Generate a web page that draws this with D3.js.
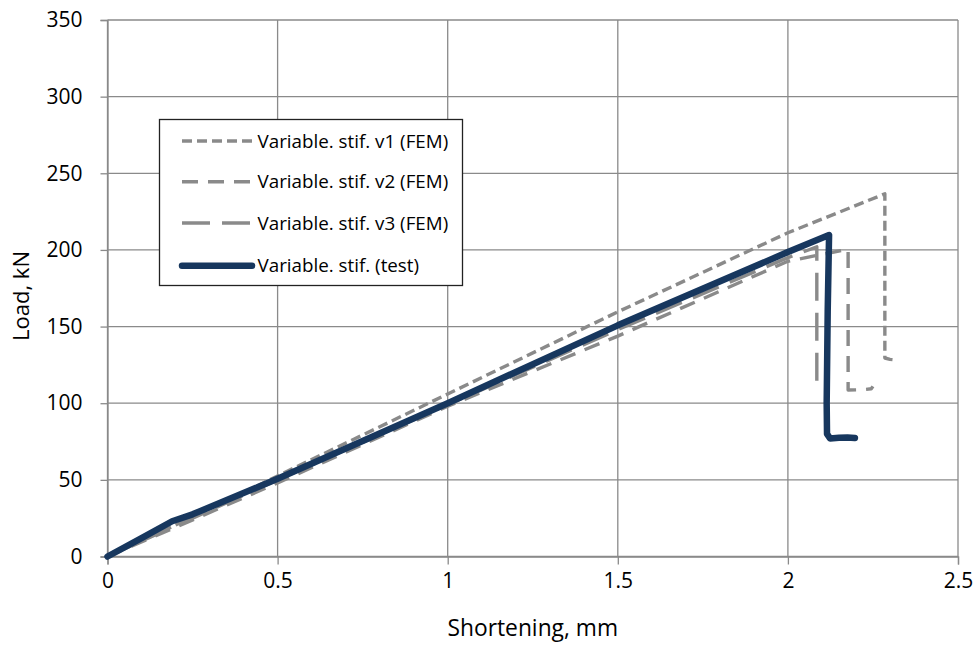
<!DOCTYPE html>
<html>
<head>
<meta charset="utf-8">
<script src="https://cdnjs.cloudflare.com/ajax/libs/d3/7.8.5/d3.min.js"></script>
<style>
    body { margin: 0; background: #fff; }
    text { font-family: "Open Sans", sans-serif; fill: #000; }
</style>
</head>
<body>
<div id="chart"></div>
<script>

/**
 * Load vs shortening - variable stiffness
 */

var xTicks = [0, 0.5, 1, 1.5, 2, 2.5];
var yTicks = [0, 50, 100, 150, 200, 250, 300, 350];

// FEM v1
var v1X = [0, 0.2, 1, 1.5, 2, 2.285, 2.285, 2.3, 2.32];
var v1Y = [0, 20.5, 106, 159.6, 211.2, 236.6, 129.5, 128.6, 128.2];

// FEM v2
var v2X = [0, 0.2, 0.5, 1, 1.5, 2, 2.177, 2.177, 2.22, 2.245, 2.25];
var v2Y = [0, 19, 48, 98, 143.8, 192.6, 200.5, 108.6, 108.8, 109.4, 111];

// FEM v3
var v3X = [0, 0.2, 0.5, 1, 1.5, 2, 2.085, 2.085];
var v3Y = [0, 20, 50, 99, 148, 195, 202, 109.7];

// test
var testX = [0, 0.1, 0.19, 0.25, 0.5, 1, 1.5, 2, 2.121, 2.117, 2.114, 2.115, 2.124, 2.15, 2.175, 2.197];
var testY = [0, 12, 23, 27.5, 50.7, 100, 150.8, 198.6, 209.7, 160, 100, 80, 77.0, 77.4, 77.7, 77.3];

var seriesNames = ['Variable. stif. v1 (FEM)', 'Variable. stif. v2 (FEM)', 'Variable. stif. v3 (FEM)', 'Variable. stif. (test)'];

var svgWidth = 980;
var svgHeight = 648;
var plotLeft = 107.5, plotRight = 958, plotTop = 20, plotBottom = 556.5;

var svg = d3.select('#chart')
    .append('svg')
    .attr('width', svgWidth)
    .attr('height', svgHeight);

var x = d3.scaleLinear().domain([0, 2.5]).range([plotLeft, plotRight]);
var y = d3.scaleLinear().domain([0, 350]).range([plotBottom, plotTop]);

var gridColor = '#8a8a8a';

// gridlines
svg.append('g')
    .selectAll('line')
    .data(yTicks)
    .enter()
    .append('line')
    .attr('x1', plotLeft)
    .attr('x2', plotRight)
    .attr('y1', function(d) { return y(d); })
    .attr('y2', function(d) { return y(d); })
    .style('stroke', gridColor)
    .style('stroke-width', 1.3);

svg.append('g')
    .selectAll('line')
    .data(xTicks)
    .enter()
    .append('line')
    .attr('x1', function(d) { return x(d); })
    .attr('x2', function(d) { return x(d); })
    .attr('y1', plotTop)
    .attr('y2', plotBottom)
    .style('stroke', gridColor)
    .style('stroke-width', 1.3);

// axes
var xAxis = svg.append('g')
    .attr('transform', 'translate(0,' + plotBottom + ')')
    .call(d3.axisBottom(x).tickValues(xTicks).tickSize(8).tickPadding(9).tickFormat(d3.format('')));

var yAxis = svg.append('g')
    .attr('transform', 'translate(' + plotLeft + ',0)')
    .call(d3.axisLeft(y).tickValues(yTicks).tickSize(7).tickPadding(18));

[xAxis, yAxis].forEach(function(a) {
    a.select('.domain').style('stroke', gridColor).style('stroke-width', 1.3);
    a.selectAll('.tick line').style('stroke', gridColor).style('stroke-width', 1.3);
    a.selectAll('.tick text')
        .style('font-family', '"Open Sans", sans-serif')
        .style('font-size', '21px')
        .style('fill', '#000');
});

// axis titles
svg.append('text')
    .attr('x', (plotLeft + plotRight) / 2)
    .attr('y', 636)
    .attr('text-anchor', 'middle')
    .style('font-size', '22.8px')
    .text('Shortening, mm');

svg.append('text')
    .attr('transform', 'translate(29,' + 296 + ') rotate(-90)')
    .attr('text-anchor', 'middle')
    .style('font-size', '22px')
    .text('Load, kN');

// series
var styles = [
    { color: '#8a8a8a', width: 3.4, dash: '10,5' },
    { color: '#8a8a8a', width: 3.4, dash: '16,10' },
    { color: '#8a8a8a', width: 3.4, dash: '28,12' },
    { color: '#17375e', width: 6.5, dash: null }
];

function zipPts(xs, ys) {
    return xs.map(function(d, i) { return [d, ys[i]]; });
}

var series = [zipPts(v1X, v1Y), zipPts(v2X, v2Y), zipPts(v3X, v3Y), zipPts(testX, testY)];

var line = d3.line()
    .x(function(d) { return x(d[0]); })
    .y(function(d) { return y(d[1]); });

series.forEach(function(pts, i) {
    svg.append('path')
        .datum(pts)
        .attr('d', line)
        .style('fill', 'none')
        .style('stroke', styles[i].color)
        .style('stroke-width', styles[i].width)
        .style('stroke-dasharray', styles[i].dash)
        .style('stroke-linejoin', 'round')
        .style('stroke-linecap', i === 3 ? 'round' : 'butt');
});

// legend
var legend = svg.append('g');
legend.append('rect')
    .attr('x', 159.5)
    .attr('y', 119.5)
    .attr('width', 303)
    .attr('height', 166)
    .style('fill', '#fff')
    .style('stroke', '#222')
    .style('stroke-width', 1.3);

var rowY = [141, 181.7, 223, 265.7];
seriesNames.forEach(function(name, i) {
    legend.append('line')
        .attr('x1', 182)
        .attr('x2', 252)
        .attr('y1', rowY[i])
        .attr('y2', rowY[i])
        .style('stroke', styles[i].color)
        .style('stroke-width', styles[i].width)
        .style('stroke-dasharray', styles[i].dash)
        .style('stroke-linecap', i === 3 ? 'round' : 'butt');
    legend.append('text')
        .attr('x', 257.5)
        .attr('y', rowY[i])
        .attr('dy', '0.35em')
        .style('font-size', '18.8px')
        .text(name);
});

</script>
</body>
</html>
